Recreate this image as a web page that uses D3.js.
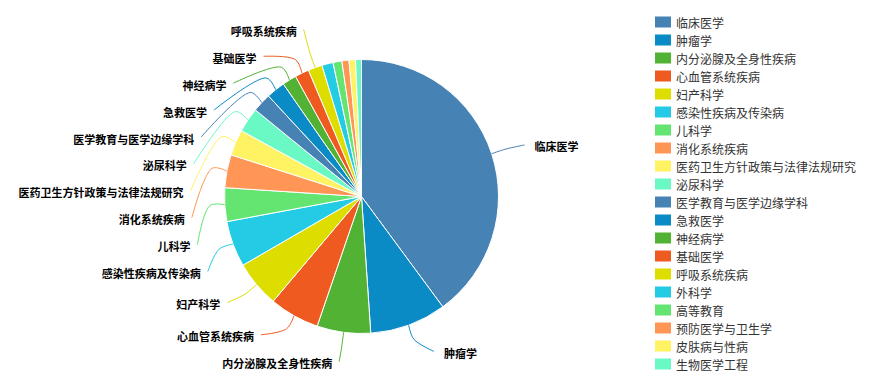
<!DOCTYPE html>
<html>
<head>
<meta charset="utf-8">
<script src="https://cdn.jsdelivr.net/npm/d3@7"></script>
<style>
  html, body { margin: 0; padding: 0; background: #fff; }
  svg { display: block; }
</style>
</head>
<body>
<svg id="chart" width="874" height="387"></svg>
<script>
// Subject categories and publication counts
const categories = [
  "临床医学", "肿瘤学", "内分泌腺及全身性疾病", "心血管系统疾病", "妇产科学",
  "感染性疾病及传染病", "儿科学", "消化系统疾病", "医药卫生方针政策与法律法规研究", "泌尿科学",
  "医学教育与医学边缘学科", "急救医学", "神经病学", "基础医学", "呼吸系统疾病",
  "外科学", "高等教育", "预防医学与卫生学", "皮肤病与性病", "生物医学工程"
];
const values = [
  574, 130, 91, 85, 79,
  78, 57, 56, 44, 42,
  32, 32, 24, 24, 24,
  19, 15, 12, 11, 10
];
const palette = [
  "#4682b4", "#0b8bc6", "#52b233", "#ee5a1f", "#dddd00",
  "#24cbe5", "#64e572", "#ff9655", "#fff263", "#6af9c4"
];

const width = 874, height = 387;
const cx = 361.5, cy = 196.5;
const radius = 137;        // pie radius
const labelRadius = 171;   // circle the label anchors sit on
const targetRadius = 165;  // radius used for each label's preferred height
const lineH = 26.9;        // vertical spacing between stacked labels
const yMin = 29.4 - cy, yMax = 361.7 - cy;  // label band, relative to centre

const svg = d3.select("#chart");
const color = d3.scaleOrdinal().domain(categories).range(palette);

const data = categories.map((name, i) => ({ name, value: values[i] }));
const pie = d3.pie().sort(null).value(d => d.value);
const arcs = pie(data);
const arc = d3.arc().innerRadius(0).outerRadius(radius);

const g = svg.append("g").attr("transform", `translate(${cx},${cy})`);

g.selectAll("path.slice")
  .data(arcs)
  .join("path")
  .attr("class", "slice")
  .attr("d", arc)
  .attr("fill", d => color(d.data.name))
  .attr("stroke", "#fff")
  .attr("stroke-width", 1);

// ---- label layout: split by side, keep what fits, spread overlapping ones ----
const pts = arcs.map(a => {
  const mid = (a.startAngle + a.endAngle) / 2;
  return {
    a, mid,
    side: Math.sin(mid) >= 0 ? 1 : -1,
    ideal: -Math.cos(mid) * targetRadius
  };
});

function distribute(list) {
  const cap = Math.floor((yMax - yMin) / lineH) + 1;
  const kept = list.slice()
    .sort((p, q) => q.a.value - p.a.value)
    .slice(0, cap)
    .sort((p, q) => p.ideal - q.ideal);
  let boxes = kept.map(p => ({ items: [p] }));
  let changed = true;
  while (changed) {
    boxes.forEach(b => {
      const mean = d3.mean(b.items, p => p.ideal);
      const span = (b.items.length - 1) * lineH;
      b.pos = Math.max(yMin, Math.min(yMax - span, mean - span / 2));
    });
    changed = false;
    for (let i = boxes.length - 1; i > 0; i--) {
      const prev = boxes[i - 1], cur = boxes[i];
      if (prev.pos + prev.items.length * lineH > cur.pos + 0.001) {
        prev.items = prev.items.concat(cur.items);
        boxes.splice(i, 1);
        changed = true;
      }
    }
  }
  boxes.forEach(b => b.items.forEach((p, k) => { p.y = b.pos + k * lineH; }));
  return kept;
}

const shown = distribute(pts.filter(p => p.side < 0))
  .concat(distribute(pts.filter(p => p.side > 0)));

shown.forEach(p => {
  const dy = p.y;
  // near the poles keep the anchor on the slice's own direction
  p.x = Math.abs(dy) > radius + 20
    ? Math.sin(p.mid) * labelRadius
    : p.side * Math.sqrt(labelRadius * labelRadius - dy * dy);
});

const curve = d3.line().curve(d3.curveCatmullRom.alpha(0.5));

g.selectAll("path.leader")
  .data(shown)
  .join("path")
  .attr("class", "leader")
  .attr("fill", "none")
  .attr("stroke", p => color(p.a.data.name))
  .attr("stroke-width", 1)
  .attr("d", p => {
    const s = [Math.sin(p.mid) * radius, -Math.cos(p.mid) * radius];
    const m = [Math.sin(p.mid) * (radius + 15), -Math.cos(p.mid) * (radius + 15)];
    return curve([s, m, [p.x, p.y]]);
  });

g.selectAll("text.label")
  .data(shown)
  .join("text")
  .attr("class", "label")
  .attr("x", p => p.side > 0 ? p.x + 10 : p.x - 7)
  .attr("y", p => p.y + 1.5)
  .attr("dominant-baseline", "central")
  .attr("text-anchor", p => p.side > 0 ? "start" : "end")
  .attr("font-family", "'Noto Sans CJK SC', sans-serif")
  .attr("font-size", 11)
  .attr("font-weight", "bold")
  .attr("fill", "#000")
  .text(p => p.a.data.name);

// ---- legend ----
const legend = svg.append("g").attr("transform", "translate(655,22)");
const rows = legend.selectAll("g")
  .data(categories)
  .join("g")
  .attr("transform", (d, i) => `translate(0,${i * 18})`);

rows.append("rect")
  .attr("x", 0).attr("y", -5.5)
  .attr("width", 16).attr("height", 11)
  .attr("fill", d => color(d));

rows.append("text")
  .attr("x", 21).attr("y", 0)
  .attr("dominant-baseline", "central")
  .attr("font-family", "'Noto Sans CJK SC', sans-serif")
  .attr("font-size", 12)
  .attr("fill", "#333")
  .text(d => d);
</script>
</body>
</html>
